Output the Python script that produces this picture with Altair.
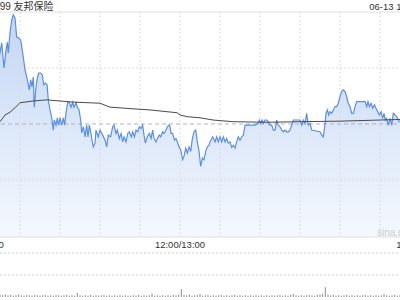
import altair as alt
import pandas as pd

# ---- price (percent change vs previous close), minute index 0..330 (09:30..12:00 | 13:00..16:00)
morning_pts = [(0,-0.07),(3.8,0.25),(7.5,0.52),(11.3,0.88),(15,1.27),(16.3,1.45),(18,1.00),(19.5,1.32),(20.5,1.46),(21.2,1.27),(22.5,1.63),(23.8,1.86),(25,1.95),(26.3,1.89),(27.5,1.55),(28.7,1.54),(30.5,1.50),(32,1.27),(33.8,0.96),(35.5,0.79),(37,0.61),(38,0.79),(39,0.66),(40,0.84),(40.7,0.30),(42,0.66),(43,0.82),(44,0.91),(45.5,0.91),(46.7,0.88),(47.8,0.70),(49,0.73),(50.3,0.70),(51.2,0.43),(52.5,0.25),(53.8,0.11),(55,-0.11),(55.7,0.07),(57,-0.02),(58,0.11),(59,-0.02),(60,0.11),(61.3,-0.02),(62.5,0.11),(63.5,-0.02),(64.5,0.20),(65.8,0.39),(67,0.38),(68.3,0.30),(69.5,0.39),(70.5,0.30),(72,0.38),(73,0.30),(74.3,0.25),(75.5,0.07),(76.3,-0.16),(77.5,-0.05),(78.8,-0.23),(80,-0.02),(81,-0.23),(82,-0.02),(83,-0.14),(84,-0.29),(85,-0.41),(86.3,-0.34),(87,-0.11),(88.7,-0.23),(90,-0.11),(92,-0.20),(93.8,-0.29),(95,-0.41),(96.2,-0.20),(98,-0.23),(99.5,-0.05),(100.5,-0.02),(102,-0.17),(103,-0.11),(104.5,-0.26),(105.8,-0.17),(107,-0.32),(108,-0.23),(109.5,-0.32),(110.8,-0.17),(112,-0.14),(113.5,-0.23),(114.5,-0.14),(115.8,-0.23),(117,-0.11),(118.3,-0.14),(119.5,-0.05),(120.8,-0.08),(122,-0.02),(123,-0.20),(124,-0.34),(125.5,-0.23),(127,-0.17),(128.3,-0.26),(129.5,-0.11),(130.5,-0.26),(132,-0.32),(133,-0.26),(134.5,-0.20),(135.5,-0.23),(137,-0.14),(138,-0.17),(139.5,-0.11),(140.5,-0.05),(141.8,-0.02),(142.5,-0.05),(143.3,-0.17),(144.5,-0.17),(145.8,-0.29),(147,-0.26),(148,-0.32),(149.3,-0.41)]

afternoon_pts = [(150.5,-0.46),(152,-0.64),(153,-0.58),(154.3,-0.43),(155.5,-0.52),(156.8,-0.41),(158,-0.49),(159.3,-0.26),(160.5,-0.14),(161.8,-0.11),(163,-0.32),(164.3,-0.49),(165.5,-0.76),(166.8,-0.61),(168,-0.64),(169.3,-0.49),(170.5,-0.41),(171.8,-0.38),(172.5,-0.32),(174.5,-0.23),(176.3,-0.32),(177.5,-0.23),(178.7,-0.32),(180,-0.23),(181.3,-0.32),(182.5,-0.23),(183.8,-0.32),(185,-0.26),(186.2,-0.34),(187.5,-0.32),(188.8,-0.42),(190,-0.38),(191.3,-0.43),(192.5,-0.32),(193.7,-0.23),(195,-0.29),(196.3,-0.23),(197.5,-0.20),(198.8,-0.02),(202.5,-0.02),(206.3,-0.02),(208.7,0.01),(209.5,0.07),(210.5,0.01),(211.5,0.07),(212.5,0.01),(213.8,0.07),(215,0.07),(216.2,0.04),(217.5,-0.02),(218.8,-0.02),(220,-0.11),(221.3,-0.11),(222.5,0.07),(223.7,-0.02),(225,-0.05),(226.3,-0.11),(227.5,-0.14),(228.8,-0.11),(230,-0.14),(231.2,-0.14),(232.5,-0.11),(233.8,-0.02),(235,0.07),(240,0.07),(241.3,-0.02),(242.5,0.07),(243.8,0.01),(245,0.19),(246.2,-0.02),(247.5,0.01),(248.8,-0.11),(255,-0.14),(256.3,-0.20),(257.5,-0.23),(258.8,0.01),(259.5,0.19),(260.5,0.25),(261.5,0.16),(262.5,0.22),(263.8,0.19),(265,0.25),(266.3,0.31),(267.5,0.31),(268.7,0.37),(270,0.49),(271.3,0.58),(272.5,0.61),(273.8,0.58),(275,0.49),(276.2,0.37),(277.5,0.31),(278.8,0.19),(280,0.19),(281.3,0.31),(282.5,0.40),(285,0.40),(287.5,0.40),(288.8,0.40),(290,0.31),(291,0.40),(292,0.31),(293.3,0.37),(294.5,0.28),(295.8,0.34),(297,0.28),(298.3,0.22),(299.5,0.16),(300.8,0.22),(302,0.10),(303,0.19),(304,0.07),(305,0.10),(306.2,-0.02),(307.5,0.10),(308.8,-0.02),(310,0.19),(311.3,0.16),(312.5,0.13),(314.3,0.04),(318.8,0.11),(324,0.07),(328.5,0.09),(330,0.07)]

avg_pts = [(0,-0.07),(7.5,-0.04),(15,0.04),(18.8,0.16),(22.5,0.21),(26.3,0.29),(30,0.38),(33.8,0.39),(39.8,0.41),(50.3,0.43),(60,0.41),(69.8,0.39),(80.3,0.38),(90,0.37),(95.3,0.32),(97.5,0.30),(114.8,0.27),(127.5,0.25),(147.8,0.20),(150,0.16),(155.3,0.13),(165,0.11),(174.8,0.07),(189.8,0.04),(215.3,0.03),(240,0.04),(270,0.05),(300,0.07),(315,0.08),(330,0.08)]

# volume, one value per 2 minutes
volume = [12,8,6,5,7,4,6,5,4,6,
          4,5,3,4,6,4,3,5,4,3,
          5,4,3,4,5,3,4,3,5,4,
          3,4,5,3,4,3,9,4,3,4,
          3,5,3,4,3,4,5,3,4,3,
          4,3,5,3,4,3,3,4,3,5,
          3,4,3,4,8,3,4,3,4,3,
          4,3,5,4,6,18,5,4,6,3,
          4,5,7,3,4,5,3,4,3,4,
          5,3,4,3,4,5,3,4,3,4,
          3,4,3,5,3,4,3,4,3,4,
          3,4,5,3,4,3,5,7,4,3,
          4,3,4,5,4,3,5,6,8,22,
          6,4,5,3,4,3,4,5,3,4,
          3,4,3,4,5,3,4,3,4,3,
          4,7,4,3,4,5,3,4,3,4,
          5,4,6,5,9]

vgrid_t = [30, 60, 90, 120, 150, 180, 210, 240, 270, 300]
hgrid_p = [1.0, -1.0]
border_p = [2.0, -2.02]
vol_grid = [100, 50]
x_labels = ["09:30", "12:00/13:00", "16:00"]
x_label_t = [0, 150, 330]
title_left = "01299 友邦保险"
title_right = "06-13 16:00"

FONT = "Liberation Sans, Noto Sans CJK SC"

X = alt.Scale(domain=[0, 330], range=[-20, 420])
YP = alt.Scale(domain=[-2.02, 2.0], range=[237, 12])
YV = alt.Scale(domain=[0, 100], range=[297, 253])

price_df = pd.DataFrame(morning_pts + afternoon_pts, columns=["t", "p"])
avg_df = pd.DataFrame(avg_pts, columns=["t", "p"])
vol_df = pd.DataFrame({"t": [2 * i + 1 for i in range(len(volume))], "v": volume})

xt = alt.X("t:Q", scale=X, axis=None)

area = alt.Chart(price_df).mark_area(
    color=alt.Gradient(
        gradient="linear",
        stops=[alt.GradientStop(color="#c2d6f4", offset=0),
               alt.GradientStop(color="#f5f8fe", offset=1)],
        x1=1, x2=1, y1=0, y2=1),
).encode(x=xt, y=alt.Y("p:Q", scale=YP, axis=None), y2=alt.datum(-2.02))

vgrid = alt.Chart(pd.DataFrame({"t": vgrid_t})).mark_rule(
    color="#dcdcdc", strokeDash=[2, 2], strokeWidth=1
).encode(x=xt, y=alt.Y(datum=2.0, scale=YP, axis=None), y2=alt.datum(-2.02))

hgrid = alt.Chart(pd.DataFrame({"p": hgrid_p})).mark_rule(
    color="#dcdcdc", strokeDash=[2, 2], strokeWidth=1
).encode(y=alt.Y("p:Q", scale=YP, axis=None), x=alt.X(datum=0, scale=X, axis=None), x2=alt.datum(330))

border = alt.Chart(pd.DataFrame({"p": border_p})).mark_rule(
    color="#e0e0e0", strokeWidth=1
).encode(y=alt.Y("p:Q", scale=YP, axis=None), x=alt.X(datum=0, scale=X, axis=None), x2=alt.datum(330))

prev_close = alt.Chart(pd.DataFrame({"p": [0.0]})).mark_rule(
    color="#b4b4b4", strokeDash=[4, 3], strokeWidth=1
).encode(y=alt.Y("p:Q", scale=YP, axis=None), x=alt.X(datum=0, scale=X, axis=None), x2=alt.datum(330))

price_line = alt.Chart(price_df).mark_line(color="#5a8fe6", strokeWidth=1.2).encode(
    x=xt, y=alt.Y("p:Q", scale=YP, axis=None))

avg_line = alt.Chart(avg_df).mark_line(color="#4a4a4a", strokeWidth=1).encode(
    x=xt, y=alt.Y("p:Q", scale=YP, axis=None))

vgrid_vol = alt.Chart(pd.DataFrame({"v": vol_grid})).mark_rule(
    color="#cfcfcf", strokeDash=[2, 2], strokeWidth=1
).encode(y=alt.Y("v:Q", scale=YV, axis=None), x=alt.X(datum=0, scale=X, axis=None), x2=alt.datum(330))

vol_bars = alt.Chart(vol_df).mark_rule(color="#8c8c8c", strokeWidth=1).encode(
    x=xt, y=alt.Y("v:Q", scale=YV, axis=None), y2=alt.datum(0))

lbl_df = pd.DataFrame({"t": x_label_t, "label": x_labels})
lbl_left = alt.Chart(lbl_df.iloc[[0]]).mark_text(
    align="left", baseline="middle", fontSize=9.5, font=FONT, color="#333333"
).encode(x=xt, y=alt.value(245), text="label:N")
lbl_mid = alt.Chart(lbl_df.iloc[[1]]).mark_text(
    align="center", baseline="middle", fontSize=9.5, font=FONT, color="#333333"
).encode(x=xt, y=alt.value(245), text="label:N")
lbl_right = alt.Chart(lbl_df.iloc[[2]]).mark_text(
    align="right", baseline="middle", fontSize=9.5, font=FONT, color="#333333"
).encode(x=xt, y=alt.value(245), text="label:N")

ttl_l = alt.Chart(pd.DataFrame({"t": [0], "s": [title_left]})).mark_text(
    align="left", baseline="middle", fontSize=10, font=FONT, color="#333333", dx=3
).encode(x=xt, y=alt.value(7), text="s:N")
ttl_r = alt.Chart(pd.DataFrame({"t": [330], "s": [title_right]})).mark_text(
    align="right", baseline="middle", fontSize=9.5, font=FONT, color="#333333"
).encode(x=xt, y=alt.value(7), text="s:N")

watermark = alt.Chart(pd.DataFrame({"s": ["sina.com"]})).mark_text(
    align="left", baseline="alphabetic", fontSize=10, font=FONT, color="#cccccc"
).encode(x=alt.value(377), y=alt.value(236), text="s:N")

chart = alt.layer(
    area, vgrid, hgrid, border, prev_close, watermark, price_line, avg_line,
    vgrid_vol, vol_bars, lbl_left, lbl_mid, lbl_right, ttl_l, ttl_r
).resolve_scale(y="independent").properties(
    width=400, height=300, padding=0,
    autosize=alt.AutoSizeParams(type="none"),
).configure_view(stroke=None)

chart.save("out.html", embed_options={"renderer": "svg", "actions": False})
